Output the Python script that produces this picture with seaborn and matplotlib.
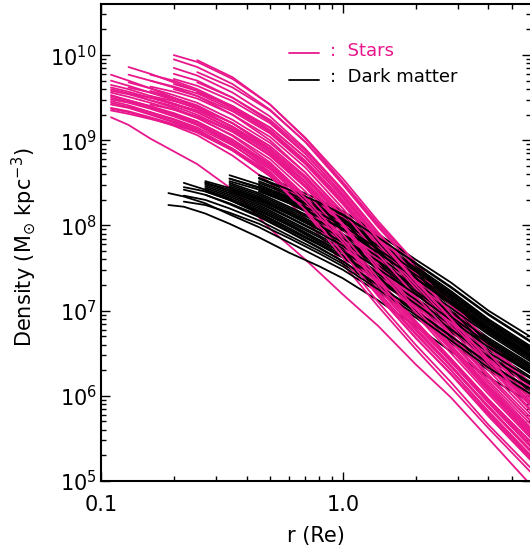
import numpy as np
import pandas as pd
import matplotlib
matplotlib.use("Agg")
import matplotlib.pyplot as plt
from matplotlib.ticker import FixedLocator, FixedFormatter, NullFormatter
import seaborn as sns

# Radii (in units of Re) at which each profile is tabulated
star_radius = [0.11, 0.13, 0.16, 0.2, 0.25, 0.35, 0.5, 0.7, 1.0, 1.4, 2.0, 2.8, 4.0, 6.0]
dm_radius = [0.19, 0.22, 0.27, 0.34, 0.45, 0.6, 0.8, 1.0, 1.4, 2.0, 2.8, 4.0, 6.0]

N = None
# log10 stellar density (Msun / kpc^3), one row per galaxy
stars_log_rho = [
    [9.27, 9.18, 9.02, 8.87, 8.72, 8.42, 7.96, 7.60, 7.19, 6.82, 6.37, 5.98, 5.50, 4.95],
    [9.37, 9.33, 9.26, 9.17, 9.06, 8.82, 8.50, 8.08, 7.55, 7.05, 6.55, 6.10, 5.62, 5.10],
    [9.42, 9.38, 9.30, 9.21, 9.10, 8.88, 8.58, 8.20, 7.70, 7.20, 6.72, 6.30, 5.82, 5.30],
    [9.53, 9.47, 9.40, 9.30, 9.18, 8.95, 8.63, 8.22, 7.72, 7.22, 6.74, 6.30, 5.80, 5.28],
    [9.65, 9.60, 9.52, 9.43, 9.33, 9.12, 8.82, 8.45, 7.98, 7.47, 6.98, 6.55, 6.08, 5.55],
    [9.77, 9.70, 9.61, 9.50, 9.38, 9.15, 8.85, 8.47, 8.00, 7.50, 7.00, 6.56, 6.08, 5.56],
    [N, 9.86, 9.78, 9.68, 9.58, 9.38, 9.10, 8.73, 8.26, 7.77, 7.28, 6.84, 6.36, 5.84],
    [N, 9.77, 9.70, 9.62, 9.52, 9.30, 9.00, 8.62, 8.14, 7.64, 7.15, 6.70, 6.22, 5.70],
    [N, N, 9.77, 9.70, 9.60, 9.40, 9.12, 8.76, 8.30, 7.80, 7.32, 6.88, 6.40, 5.90],
    [N, N, N, 9.95, 9.86, 9.66, 9.36, 8.98, 8.50, 8.00, 7.52, 7.07, 6.60, 6.08],
    [N, N, N, 10.0, 9.92, 9.72, 9.42, 9.02, 8.51, 8.02, 7.56, 7.10, 6.62, 6.10],
    [N, N, N, N, 9.94, 9.74, 9.42, 9.03, 8.55, 8.05, 7.56, 7.10, 6.64, 6.14],
    [9.48, 9.44, 9.37, 9.28, 9.18, 8.97, 8.68, 8.30, 7.82, 7.32, 6.83, 6.40, 5.92, 5.40],
    [9.58, 9.54, 9.47, 9.40, 9.30, 9.10, 8.82, 8.45, 7.96, 7.45, 6.95, 6.50, 6.02, 5.50],
    [9.50, 9.45, 9.38, 9.30, 9.20, 8.98, 8.68, 8.28, 7.78, 7.26, 6.78, 6.35, 5.88, 5.35],
    [N, 9.55, 9.50, 9.43, 9.35, 9.16, 8.90, 8.55, 8.08, 7.58, 7.08, 6.64, 6.15, 5.62],
    [N, 9.62, 9.56, 9.49, 9.40, 9.20, 8.93, 8.57, 8.10, 7.60, 7.10, 6.66, 6.18, 5.66],
    [N, N, 9.63, 9.57, 9.49, 9.30, 9.04, 8.68, 8.20, 7.70, 7.22, 6.78, 6.30, 5.78],
    [N, N, 9.52, 9.46, 9.38, 9.20, 8.93, 8.58, 8.12, 7.62, 7.13, 6.70, 6.22, 5.70],
    [N, N, N, 9.72, 9.64, 9.46, 9.20, 8.84, 8.37, 7.87, 7.38, 6.94, 6.46, 5.95],
    [N, N, N, 9.85, 9.76, 9.56, 9.28, 8.90, 8.42, 7.92, 7.44, 6.99, 6.52, 6.00],
    [N, N, N, N, 9.80, 9.62, 9.35, 8.98, 8.48, 7.98, 7.50, 7.05, 6.57, 6.05],
    [9.44, 9.39, 9.31, 9.22, 9.12, 8.90, 8.60, 8.20, 7.68, 7.18, 6.68, 6.25, 5.76, 5.24],
    [9.35, 9.31, 9.25, 9.18, 9.10, 8.90, 8.62, 8.25, 7.76, 7.26, 6.77, 6.34, 5.86, 5.34],
    [9.60, 9.55, 9.47, 9.38, 9.27, 9.05, 8.74, 8.35, 7.86, 7.35, 6.86, 6.42, 5.94, 5.42],
    [9.70, 9.64, 9.56, 9.47, 9.37, 9.16, 8.88, 8.52, 8.05, 7.55, 7.05, 6.60, 6.12, 5.60],
    [N, 9.45, 9.39, 9.31, 9.22, 9.01, 8.72, 8.33, 7.84, 7.33, 6.84, 6.40, 5.92, 5.40],
    [N, N, 9.42, 9.36, 9.28, 9.10, 8.83, 8.46, 7.98, 7.48, 6.98, 6.55, 6.06, 5.54],
    [N, N, N, 9.60, 9.52, 9.34, 9.08, 8.72, 8.25, 7.75, 7.26, 6.82, 6.34, 5.82],
    [N, N, N, N, 9.68, 9.50, 9.24, 8.88, 8.40, 7.90, 7.42, 6.97, 6.50, 5.98],
    [9.46, 9.41, 9.33, 9.24, 9.13, 8.90, 8.58, 8.16, 7.62, 7.10, 6.60, 6.16, 5.66, 5.15],
    [9.56, 9.51, 9.44, 9.36, 9.26, 9.06, 8.78, 8.40, 7.90, 7.38, 6.88, 6.44, 5.96, 5.46],
    [N, 9.68, 9.61, 9.53, 9.44, 9.24, 8.97, 8.62, 8.16, 7.66, 7.17, 6.73, 6.25, 5.74],
    [N, N, 9.70, 9.63, 9.55, 9.36, 9.10, 8.75, 8.28, 7.78, 7.30, 6.86, 6.38, 5.88],
    [N, N, N, 9.78, 9.70, 9.50, 9.22, 8.85, 8.36, 7.85, 7.36, 6.90, 6.43, 5.92],
    [9.38, 9.34, 9.27, 9.19, 9.09, 8.88, 8.58, 8.18, 7.68, 7.17, 6.68, 6.26, 5.78, 5.26],
    [9.62, 9.57, 9.50, 9.42, 9.33, 9.13, 8.86, 8.50, 8.02, 7.52, 7.02, 6.58, 6.10, 5.58],
    [N, N, 9.58, 9.50, 9.41, 9.20, 8.90, 8.50, 8.00, 7.48, 6.98, 6.54, 6.05, 5.52],
    [N, N, N, 9.66, 9.58, 9.40, 9.15, 8.80, 8.33, 7.83, 7.34, 6.90, 6.42, 5.90],
    [9.52, 9.47, 9.40, 9.32, 9.22, 9.00, 8.70, 8.32, 7.84, 7.34, 6.86, 6.43, 5.96, 5.45],
    [N, 9.40, 9.33, 9.25, 9.15, 8.94, 8.66, 8.28, 7.80, 7.30, 6.80, 6.36, 5.87, 5.36],
    [N, N, N, N, 9.56, 9.40, 9.15, 8.80, 8.34, 7.84, 7.35, 6.90, 6.42, 5.90],
]

# log10 dark-matter density (Msun / kpc^3), one row per galaxy
dm_log_rho = [
    [8.24, 8.22, 8.14, 8.02, 7.86, 7.68, 7.52, 7.38, 7.12, 6.82, 6.52, 6.22, 5.92],
    [8.38, 8.34, 8.26, 8.13, 7.98, 7.80, 7.62, 7.48, 7.22, 6.92, 6.62, 6.30, 6.00],
    [N, 8.50, 8.42, 8.30, 8.14, 7.95, 7.77, 7.62, 7.35, 7.05, 6.75, 6.43, 6.12],
    [N, 8.45, 8.40, 8.30, 8.17, 8.00, 7.82, 7.68, 7.40, 7.10, 6.80, 6.47, 6.15],
    [N, N, 8.50, 8.42, 8.30, 8.13, 7.95, 7.80, 7.52, 7.22, 6.92, 6.60, 6.28],
    [N, N, 8.48, 8.38, 8.24, 8.06, 7.88, 7.73, 7.45, 7.15, 6.86, 6.54, 6.22],
    [N, N, 8.44, 8.34, 8.20, 8.02, 7.83, 7.68, 7.40, 7.10, 6.80, 6.48, 6.16],
    [N, N, N, 8.59, 8.48, 8.32, 8.15, 8.00, 7.72, 7.42, 7.12, 6.80, 6.48],
    [N, N, N, 8.52, 8.42, 8.26, 8.08, 7.94, 7.66, 7.36, 7.06, 6.74, 6.42],
    [N, N, N, 8.48, 8.36, 8.20, 8.03, 7.88, 7.60, 7.30, 7.00, 6.68, 6.37],
    [N, N, N, N, 8.59, 8.46, 8.30, 8.17, 7.90, 7.60, 7.33, 7.00, 6.69],
    [N, N, N, N, 8.55, 8.40, 8.24, 8.10, 7.82, 7.52, 7.23, 6.90, 6.58],
    [N, N, N, N, 8.50, 8.36, 8.20, 8.05, 7.77, 7.47, 7.18, 6.86, 6.55],
    [N, N, 8.40, 8.30, 8.15, 7.97, 7.78, 7.63, 7.36, 7.06, 6.76, 6.44, 6.13],
    [N, 8.35, 8.30, 8.20, 8.06, 7.88, 7.70, 7.55, 7.28, 6.98, 6.68, 6.36, 6.05],
    [N, N, N, 8.44, 8.32, 8.15, 7.97, 7.82, 7.55, 7.25, 6.95, 6.63, 6.32],
    [N, N, N, 8.55, 8.45, 8.30, 8.13, 7.98, 7.70, 7.40, 7.10, 6.78, 6.46],
    [N, N, N, N, 8.45, 8.32, 8.16, 8.02, 7.74, 7.44, 7.15, 6.83, 6.52],
    [N, N, N, N, N, 8.40, 8.25, 8.12, 7.85, 7.55, 7.27, 6.95, 6.63],
    [N, N, 8.52, 8.44, 8.32, 8.16, 7.98, 7.84, 7.56, 7.26, 6.96, 6.64, 6.33],
    [N, N, N, 8.40, 8.28, 8.10, 7.92, 7.77, 7.50, 7.20, 6.90, 6.58, 6.27],
    [N, 8.42, 8.36, 8.26, 8.12, 7.93, 7.74, 7.58, 7.30, 7.00, 6.70, 6.38, 6.08],
    [N, N, N, N, 8.42, 8.28, 8.12, 7.98, 7.70, 7.40, 7.10, 6.78, 6.47],
    [N, N, N, 8.50, 8.38, 8.22, 8.05, 7.90, 7.63, 7.33, 7.03, 6.72, 6.40],
    [N, N, 8.46, 8.36, 8.22, 8.04, 7.86, 7.70, 7.43, 7.13, 6.83, 6.51, 6.20],
    [N, N, N, N, 8.52, 8.38, 8.22, 8.08, 7.80, 7.50, 7.21, 6.89, 6.57],
    [N, N, N, N, N, 8.35, 8.20, 8.06, 7.78, 7.48, 7.19, 6.87, 6.55],
    [N, N, N, 8.46, 8.34, 8.18, 8.00, 7.85, 7.58, 7.28, 6.98, 6.66, 6.35],
    [N, N, 8.42, 8.32, 8.18, 8.00, 7.80, 7.65, 7.38, 7.08, 6.78, 6.46, 6.15],
    [N, N, N, N, 8.47, 8.34, 8.18, 8.04, 7.76, 7.46, 7.17, 6.85, 6.53],
    [N, N, N, 8.42, 8.30, 8.13, 7.95, 7.80, 7.53, 7.23, 6.93, 6.61, 6.30],
    [N, N, N, N, 8.40, 8.26, 8.10, 7.96, 7.68, 7.38, 7.08, 6.76, 6.45],
    [N, N, 8.36, 8.25, 8.10, 7.92, 7.73, 7.58, 7.30, 7.00, 6.70, 6.38, 6.07],
    [N, N, N, N, N, 8.30, 8.14, 8.00, 7.72, 7.42, 7.13, 6.81, 6.50],
    [N, N, N, 8.55, 8.44, 8.28, 8.10, 7.96, 7.68, 7.38, 7.08, 6.76, 6.44],
    [N, N, N, N, 8.56, 8.42, 8.27, 8.13, 7.86, 7.56, 7.28, 6.96, 6.64],
    [N, N, 8.50, 8.40, 8.26, 8.09, 7.91, 7.76, 7.49, 7.19, 6.89, 6.57, 6.26],
    [N, 8.28, 8.24, 8.15, 8.02, 7.85, 7.67, 7.52, 7.25, 6.95, 6.65, 6.33, 6.02],
]

x_tick_values = [0.1, 1.0]
x_tick_labels = ["0.1", "1.0"]
y_tick_exponents = [5, 6, 7, 8, 9, 10]

STAR_COLOR = "#E8178C"
DM_COLOR = "black"


def profile_frame(radius, log_rho):
    r = np.array(radius, dtype=float)
    v = np.array([np.nan if x is None else x for x in log_rho], dtype=float)
    ok = ~np.isnan(v)
    return pd.DataFrame({"r": r[ok], "rho": 10.0 ** v[ok]})


sns.set_theme(style="ticks")
plt.rcParams["font.family"] = ["DejaVu Sans"]
plt.rcParams["mathtext.fontset"] = "dejavusans"

fig = plt.figure(figsize=(5.30, 5.50), dpi=100)
ax = fig.add_axes([101 / 530, 69 / 550, 430 / 530, 477 / 550])

# draw galaxy by galaxy: stellar profile, then its dark-matter profile
n = max(len(stars_log_rho), len(dm_log_rho))
for i in range(n):
    if i < len(stars_log_rho):
        sns.lineplot(data=profile_frame(star_radius, stars_log_rho[i]), x="r", y="rho",
                     color=STAR_COLOR, lw=1.3, estimator=None, sort=False,
                     legend=False, ax=ax)
    if i < len(dm_log_rho):
        sns.lineplot(data=profile_frame(dm_radius, dm_log_rho[i]), x="r", y="rho",
                     color=DM_COLOR, lw=1.3, estimator=None, sort=False,
                     legend=False, ax=ax)

ax.set_xscale("log")
ax.set_yscale("log")
ax.set_xlim(0.1, 6.0)
ax.set_ylim(1e5, 10 ** 10.6)

# x ticks
ax.xaxis.set_major_locator(FixedLocator(x_tick_values))
ax.xaxis.set_major_formatter(FixedFormatter(x_tick_labels))
ax.xaxis.set_minor_locator(FixedLocator([0.2, 0.3, 0.4, 0.5, 0.6, 0.7, 0.8, 0.9,
                                         2, 3, 4, 5, 6]))
ax.xaxis.set_minor_formatter(NullFormatter())

# y ticks
ax.yaxis.set_major_locator(FixedLocator([10.0 ** e for e in y_tick_exponents]))
ax.yaxis.set_major_formatter(FixedFormatter([rf"$10^{{{e}}}$" for e in y_tick_exponents]))
ax.yaxis.set_minor_locator(FixedLocator([m * 10.0 ** e for e in range(4, 11)
                                         for m in range(2, 10)]))
ax.yaxis.set_minor_formatter(NullFormatter())

ax.tick_params(which="both", direction="in", top=True, right=True,
               color="black", labelcolor="black", labelsize=15)
ax.tick_params(which="major", length=6.5, width=1.0)
ax.tick_params(which="minor", length=3.6, width=1.0)
ax.tick_params(axis="x", which="major", pad=10)
ax.tick_params(axis="y", which="major", pad=3)

for s in ax.spines.values():
    s.set_visible(True)
    s.set_color("black")
    s.set_linewidth(1.5)

ax.set_xlabel("r (Re)", fontsize=15, color="black")
ax.set_ylabel(r"Density (M$_{\odot}$ kpc$^{-3}$)", fontsize=15, color="black")
ax.xaxis.label.set_va("center")
ax.yaxis.label.set_va("center")
ax.xaxis.set_label_coords(0.5, -0.115)
ax.yaxis.set_label_coords(-0.179, 0.49)

# key
ax.plot([0.437, 0.507], [0.897, 0.897], transform=ax.transAxes,
        color=STAR_COLOR, lw=1.3, clip_on=False)
ax.text(0.532, 0.891, ":  Stars", transform=ax.transAxes, color=STAR_COLOR,
        fontsize=13, ha="left", va="baseline")
ax.plot([0.437, 0.507], [0.841, 0.841], transform=ax.transAxes,
        color=DM_COLOR, lw=1.3, clip_on=False)
ax.text(0.532, 0.836, ":  Dark matter", transform=ax.transAxes, color=DM_COLOR,
        fontsize=13, ha="left", va="baseline")

fig.savefig("out.png", dpi=100, facecolor="white")
